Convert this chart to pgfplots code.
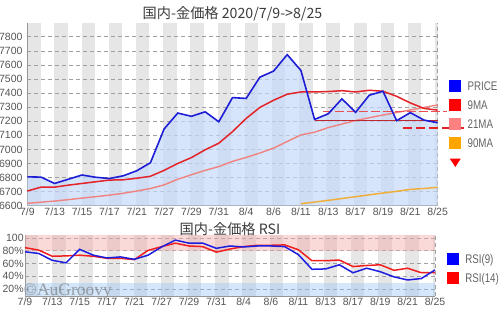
\documentclass[border=0pt]{standalone}
\usepackage{fontspec}
\usepackage{pgfplots}
\pgfplotsset{compat=1.18}
\newfontfamily\cjk{Noto Sans CJK JP}
\newfontfamily\lsans{Liberation Sans}
\newfontfamily\lsanscond[FakeStretch=0.78]{Liberation Sans}
\newfontfamily\lserif{Liberation Serif}
\newcommand\tickfont{\lsans\fontsize{10.5bp}{12bp}\selectfont}
\newcommand\legfont{\lsanscond\fontsize{12.5bp}{14bp}\selectfont}
\newcommand\titlefont{\cjk\fontsize{14.2bp}{16bp}\selectfont}
\newcommand\wmfont{\lserif\fontsize{17.5bp}{19bp}\selectfont}
\definecolor{stripegray}{RGB}{230,230,230}
\definecolor{gridgray}{RGB}{160,160,160}
\definecolor{axisgray}{RGB}{150,150,150}
\definecolor{ticktext}{RGB}{85,85,85}
\definecolor{titlecol}{RGB}{60,60,60}
\definecolor{legtext}{RGB}{100,100,100}
\definecolor{pricefill}{RGB}{196,218,250}
\definecolor{priceline}{RGB}{30,30,215}
\definecolor{ma9}{RGB}{228,35,40}
\definecolor{ma21}{RGB}{240,130,128}
\definecolor{ma90}{RGB}{240,175,60}
\definecolor{hdark}{RGB}{190,40,50}
\definecolor{legblue}{RGB}{0,0,255}
\definecolor{legred}{RGB}{255,0,0}
\definecolor{legsalmon}{RGB}{255,128,128}
\definecolor{legorange}{RGB}{255,165,0}
\definecolor{rsiblue}{RGB}{30,30,225}
\definecolor{rsired}{RGB}{240,30,30}
\definecolor{pinkband}{RGB}{245,170,170}
\definecolor{blueband}{RGB}{150,195,245}
\newcommand\stripes[2]{%
\fill[stripegray] (axis cs:0,#1) rectangle (axis cs:0.98,#2);
\fill[stripegray] (axis cs:1.988,#1) rectangle (axis cs:2.968,#2);
\fill[stripegray] (axis cs:3.976,#1) rectangle (axis cs:4.956,#2);
\fill[stripegray] (axis cs:5.964,#1) rectangle (axis cs:6.944,#2);
\fill[stripegray] (axis cs:7.952,#1) rectangle (axis cs:8.932,#2);
\fill[stripegray] (axis cs:9.940,#1) rectangle (axis cs:10.920,#2);
\fill[stripegray] (axis cs:11.928,#1) rectangle (axis cs:12.908,#2);
\fill[stripegray] (axis cs:13.916,#1) rectangle (axis cs:14.896,#2);
\fill[stripegray] (axis cs:15.904,#1) rectangle (axis cs:16.884,#2);
\fill[stripegray] (axis cs:17.892,#1) rectangle (axis cs:18.872,#2);
\fill[stripegray] (axis cs:19.880,#1) rectangle (axis cs:20.860,#2);
\fill[stripegray] (axis cs:21.868,#1) rectangle (axis cs:22.848,#2);
\fill[stripegray] (axis cs:23.856,#1) rectangle (axis cs:24.836,#2);
\fill[stripegray] (axis cs:25.844,#1) rectangle (axis cs:26.824,#2);
\fill[stripegray] (axis cs:27.832,#1) rectangle (axis cs:28.812,#2);
\fill[stripegray] (axis cs:29.820,#1) rectangle (axis cs:30,#2);
}
\pgfplotsset{
  chartbase/.style={
    scale only axis, xmin=0, xmax=30, clip=false, set layers,
    axis x line*=bottom, axis y line*=left,
    axis line style={draw=axisgray, line width=0.8bp, -},
    xtick={0,2,...,30},
    xticklabels={7/9,7/13,7/15,7/17,7/21,7/27,7/29,7/31,8/4,8/6,8/11,8/13,8/17,8/19,8/21,8/25},
    major tick length=0pt,
    ymajorgrids, grid style={dash pattern=on 4bp off 3bp, draw=gridgray, line width=0.7bp},
    ticklabel style={font=\tickfont, text=ticktext, inner sep=0pt},
    xticklabel style={anchor=north},
    yticklabel style={anchor=east},
    every axis title/.style={at={(0.5,1)}, anchor=center, inner sep=0pt, font=\titlefont, text=titlecol},
    legend image code/.code={\fill[##1, draw=none] (0bp,-6bp) rectangle (12bp,6bp);},
    legend cell align=left,
  },
}
\begin{document}
\begin{tikzpicture}
% ---------------- main price chart ----------------
\begin{axis}[chartbase,
  at={(27.3bp,104.3bp)}, anchor=south west,
  width=410.4bp, height=183bp,
  ymin=6600, ymax=7900,
  ytick={6600,6700,...,7800},
  yticklabels={6600,6700,6800,6900,7000,7100,7200,7300,7400,7500,7600,7700,7800},
  xticklabel shift=2bp, yticklabel shift=4.6bp,
  title={国内-金価格 2020/7/9->8/25}, title style={yshift=8.7bp},
  legend style={draw=none, fill=none, inner sep=0pt, outer sep=0pt,
    at={(1,1)}, anchor=north west, xshift=11.6bp, yshift=-57.3bp,
    row sep=7bp, column sep=6.3bp,
    nodes={inner sep=0pt, text depth=0pt, anchor=west, font=\legfont, text=legtext}},
]
\begin{pgfonlayer}{axis background}
\stripes{6600}{7900}
\end{pgfonlayer}
\draw[dash pattern=on 4bp off 3bp, draw=gridgray, line width=0.7bp] (axis cs:30,6600) -- (axis cs:30,7900);
% price area
\addplot[draw=none, fill=pricefill, fill opacity=0.7, forget plot] coordinates {
(0,6600) (0,6805) (1,6803) (2,6758) (3,6788) (4,6818) (5,6802) (6,6793) (7,6812) (8,6848) (9,6905)
(10,7145) (11,7258) (12,7235) (13,7267) (14,7196) (15,7368) (16,7362) (17,7513) (18,7556) (19,7673)
(20,7561) (21,7213) (22,7253) (23,7359) (24,7263) (25,7385) (26,7413) (27,7204) (28,7261) (29,7208) (30,7189) (30,6600)} -- cycle;
% 90MA
\addplot[ma90, line width=1.5bp, forget plot] coordinates {
(20,6614) (21,6626) (22,6638) (23,6651) (24,6664) (25,6677) (26,6690) (27,6702) (28,6716) (29,6722) (30,6731)};
% 21MA
\addplot[ma21, line width=1.4bp, forget plot] coordinates {
(0,6617) (1,6625) (2,6633) (3,6643) (4,6654) (5,6664) (6,6675) (7,6688) (8,6704) (9,6722)
(10,6748) (11,6788) (12,6820) (13,6851) (14,6878) (15,6915) (16,6943) (17,6974) (18,7009) (19,7056)
(20,7103) (21,7122) (22,7155) (23,7180) (24,7205) (25,7225) (26,7244) (27,7262) (28,7280) (29,7298) (30,7316)};
% 9MA
\addplot[ma9, line width=1.5bp, forget plot] coordinates {
(0,6704) (1,6732) (2,6732) (3,6746) (4,6758) (5,6770) (6,6782) (7,6784) (8,6795) (9,6809)
(10,6851) (11,6900) (12,6942) (13,6997) (14,7044) (15,7126) (16,7220) (17,7298) (18,7349) (19,7392)
(20,7408) (21,7408) (22,7411) (23,7417) (24,7408) (25,7420) (26,7413) (27,7377) (28,7330) (29,7291) (30,7279)};
% horizontal levels
\addplot[hdark, line width=1bp, forget plot] coordinates {(21,7208) (30,7208)};
\addplot[ma9!80!white, line width=1.5bp, dash pattern=on 9bp off 3bp, forget plot] coordinates {(21.6,7268) (30.68,7268)};
\addplot[ma9, line width=2bp, dash pattern=on 9bp off 4bp, forget plot] coordinates {(27.46,7155) (32.1,7155)};
% price line
\addplot[priceline, line width=1.6bp, forget plot] coordinates {
(0,6805) (1,6803) (2,6758) (3,6788) (4,6818) (5,6802) (6,6793) (7,6812) (8,6848) (9,6905)
(10,7145) (11,7258) (12,7235) (13,7267) (14,7196) (15,7368) (16,7362) (17,7513) (18,7556) (19,7673)
(20,7561) (21,7213) (22,7253) (23,7359) (24,7263) (25,7385) (26,7413) (27,7204) (28,7261) (29,7208) (30,7189)};
% legend
\addlegendimage{fill=legblue}\addlegendentry{PRICE}
\addlegendimage{fill=legred}\addlegendentry{9MA}
\addlegendimage{fill=legsalmon}\addlegendentry{21MA}
\addlegendimage{fill=legorange}\addlegendentry{90MA}
\addlegendimage{legend image code/.code={\path[draw=none, fill=none] (0bp,-6bp) rectangle (12bp,6bp); \path[fill=legred, draw=none] (0.5bp,3.4bp) -- (11.5bp,3.4bp) -- (6bp,-5bp) -- cycle;}}\addlegendentry{}
\end{axis}
% ---------------- RSI chart ----------------
\begin{axis}[chartbase,
  at={(25bp,13.5bp)}, anchor=south west,
  width=410bp, height=61bp,
  ymin=8, ymax=104,
  ytick={20,40,60,80,100},
  yticklabels={20\%,40\%,60\%,80\%,100},
  xticklabel shift=1.6bp, yticklabel shift=1.2bp,
  title={国内-金価格 RSI}, title style={yshift=6.5bp},
  legend style={draw=none, fill=none, inner sep=0pt, outer sep=0pt,
    at={(1,1)}, anchor=north west, xshift=11.7bp, yshift=-17.5bp,
    row sep=7bp, column sep=6.6bp,
    nodes={inner sep=0pt, text depth=0pt, anchor=west, font=\legfont, text=legtext}},
]
\begin{pgfonlayer}{axis background}
\stripes{8}{104}
\end{pgfonlayer}
\draw[dash pattern=on 4bp off 3bp, draw=gridgray, line width=0.7bp] (axis cs:30,8) -- (axis cs:30,104);
\addplot[draw=none, fill=pinkband, fill opacity=0.45, forget plot] coordinates {(0,80) (30,80) (30,104) (0,104)} -- cycle;
\addplot[draw=none, fill=blueband, fill opacity=0.4, forget plot] coordinates {(0,8) (30,8) (30,30) (0,30)} -- cycle;
% RSI(14)
\addplot[rsired, line width=1.5bp, forget plot] coordinates {
(0,84.9) (1,81) (2,71.3) (3,71.9) (4,73) (5,71.3) (6,68.1) (7,68.1) (8,66) (9,80.5)
(10,86.5) (11,91.9) (12,87.5) (13,86.5) (14,77.8) (15,82.7) (16,86.5) (17,88.6) (18,88.6) (19,89.2)
(20,81.6) (21,64.3) (22,64.3) (23,65.4) (24,55.1) (25,56.8) (26,57.9) (27,49.2) (28,52.5) (29,45.4) (30,45.4)};
% RSI(9)
\addplot[rsiblue, line width=1.5bp, forget plot] coordinates {
(0,78.4) (1,75.7) (2,64.9) (3,61) (4,82.2) (5,73) (6,68.7) (7,70.3) (8,66.5) (9,73)
(10,86) (11,96.8) (12,91.9) (13,92) (14,83.8) (15,87.5) (16,86) (17,87.5) (18,87.5) (19,86.5)
(20,74) (21,50.8) (22,51.4) (23,57.9) (24,45.4) (25,52.5) (26,47) (27,38.9) (28,34) (29,36.3) (30,49.8)};
\addlegendimage{fill=legblue}\addlegendentry{RSI(9)}
\addlegendimage{fill=legred}\addlegendentry{RSI(14)}
\end{axis}
\node[font=\wmfont, text={rgb,255:red,110;green,110;blue,110}, opacity=0.6, anchor=base west, inner sep=0pt] at (23.5bp,15bp) {©AuGroovy};
\pgfresetboundingbox
\path[use as bounding box] (0,0) rectangle (500bp,310bp);
\end{tikzpicture}
\end{document}
